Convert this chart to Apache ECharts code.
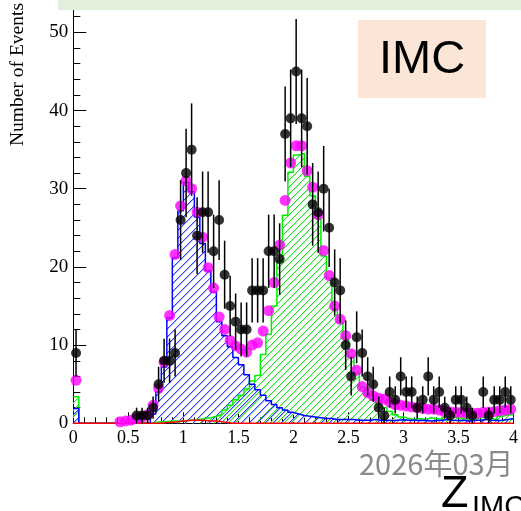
<!DOCTYPE html>
<html>
<head>
<meta charset="utf-8">
<script src="https://cdn.jsdelivr.net/npm/echarts@6/dist/echarts.min.js"></script>
<style>
  html, body { margin: 0; padding: 0; background: #ffffff; }
  #chart { width: 521px; height: 511px; }
</style>
</head>
<body>
<div id="chart"></div>
<script>
// Histogram binning: 80 bins of width 0.05 over [0, 4]
const BIN_WIDTH = 0.05;
const X_RANGE = [0, 4];

// Observed events per bin
const dataCounts = [
  9, 0, 0, 0, 0, 0, 0, 0, 0, 0,
  0, 1, 1, 1, 2, 5, 8, 8, 9, 26,
  32, 35, 24, 27, 27, 22, 26, 19, 15, 13,
  12, 12, 17, 17, 17, 22, 22, 21, 37, 39,
  45, 39, 38, 28, 27, 30, 25, 18, 17, 10,
  6, 11, 9, 6, 5, 2, 1, 4, 3, 6,
  4, 4, 2, 3, 6, 3, 4, 2, 1, 3,
  3, 2, 1, 0, 4, 1, 3, 3, 4, 3
];

// Total simulation (magenta markers)
const mcTotal = [
  5.5, 0, 0, 0, 0, 0, 0, 0, 0.2, 0.3,
  0.4, 0.6, 0.8, 1.1, 2.3, 4.5, 7.8, 13.8, 21.6, 27.8,
  31.0, 30.0, 27.0, 23.8, 19.9, 17.3, 13.6, 12.0, 10.6, 9.9,
  9.5, 9.1, 10.0, 10.3, 11.8, 14.4, 18.0, 22.8, 28.5, 33.3,
  35.5, 35.5, 32.3, 30.2, 26.7, 22.1, 18.9, 15.0, 13.3, 11.2,
  8.9, 6.8, 4.7, 3.9, 3.5, 3.2, 3.1, 2.7, 2.4, 2.3,
  2.2, 2.1, 2.0, 1.9, 1.8, 1.8, 1.7, 1.5, 1.45, 1.4,
  1.4, 1.3, 1.3, 1.3, 1.4, 1.4, 1.5, 1.6, 1.7, 1.8
];

// Component around Z = 1 (blue hatched)
const mcBlue = [
  1.9, 0, 0, 0, 0, 0, 0, 0, 0, 0,
  0, 0, 0, 0, 1.2, 4.0, 7.2, 13.5, 21.2, 27.2,
  30.8, 29.6, 26.4, 23.0, 19.5, 16.8, 13.0, 11.2, 9.8, 8.4,
  7.5, 6.2, 5.0, 4.3, 3.6, 2.9, 2.4, 2.0, 1.7, 1.4,
  1.2, 1.0, 0.9, 0.8, 0.7, 0.6, 0.6, 0.5, 0.5, 0.5,
  0.5, 0.4, 0.4, 0.4, 0.5, 0.4, 0.4, 0.35, 0.4, 0.45,
  0.4, 0.4, 0.35, 0.4, 0.3, 0.35, 0.4, 0.5, 0.4, 0.35,
  0.4, 0.3, 0.4, 0.4, 0.5, 0.4, 0.35, 0.4, 0.5, 0.6
];

// Component around Z = 2 (green hatched)
const mcGreen = [
  3.4, 0, 0, 0, 0, 0, 0, 0, 0, 0,
  0, 0, 0, 0, 0.1, 0.2, 0.2, 0.3, 0.3, 0.3,
  0.4, 0.4, 0.5, 0.6, 0.7, 0.9, 1.1, 1.7, 2.3, 3.0,
  3.6, 4.4, 5.4, 6.1, 8.8, 11.4, 15.0, 20.8, 26.6, 32.1,
  34.3, 34.5, 31.6, 29.1, 26.2, 21.4, 18.6, 14.6, 12.9, 10.8,
  8.5, 6.5, 4.6, 3.6, 3.0, 2.5, 2.0, 1.5, 1.1, 0.8,
  0.6, 0.5, 0.6, 0.5, 0.7, 0.6, 0.5, 0.8, 0.9, 0.7,
  0.6, 0.5, 0.6, 0.7, 0.8, 0.6, 0.5, 0.9, 1.1, 1.1
];

// Small extra component (red)
const mcRed = [
  0, 0, 0, 0, 0, 0, 0, 0, 0, 0,
  0, 0, 0, 0, 0, 0, 0.1, 0.15, 0.2, 0.3,
  0.35, 0.4, 0.4, 0.35, 0.3, 0.3, 0.2, 0.1, 0, 0,
  0, 0, 0, 0, 0, 0, 0, 0, 0, 0,
  0, 0, 0, 0, 0, 0, 0, 0, 0, 0,
  0, 0, 0, 0, 0, 0, 0, 0, 0, 0,
  0, 0, 0, 0, 0, 0, 0, 0, 0, 0,
  0, 0, 0, 0, 0, 0, 0, 0, 0, 0
];

// Axis ticks
const xTickStep = 0.5;
const yTickStep = 10;
const yMax = 53.5;

const binLow = i => X_RANGE[0] + i * BIN_WIDTH;
const binCenter = i => X_RANGE[0] + (i + 0.5) * BIN_WIDTH;

// step outline: one point per lower edge, closed at the upper end
function stepData(values) {
  const pts = values.map((v, i) => [binLow(i), v]);
  pts.push([X_RANGE[1], values[values.length - 1]]);
  return pts;
}

// "/" hatch fill: a crisp core pixel with a softer neighbour
function hatch(core, soft, size) {
  const c = document.createElement('canvas');
  c.width = size; c.height = size;
  const g = c.getContext('2d');
  for (let i = 0; i < size; i++) {
    g.fillStyle = soft;
    g.fillRect((i + 1) % size, size - 1 - i, 1, 1);
    g.fillStyle = core;
    g.fillRect(i, size - 1 - i, 1, 1);
  }
  return c;
}

const pointData = [];
const errData = [];
dataCounts.forEach((n, i) => {
  if (n > 0) {
    pointData.push([binCenter(i), n]);
    errData.push([binCenter(i), n - Math.sqrt(n), n + Math.sqrt(n)]);
  }
});
const mcPoints = [];
mcTotal.forEach((v, i) => { if (v > 0) mcPoints.push([binCenter(i), v]); });

const serif = '"Liberation Serif", "DejaVu Serif", serif';
const sans = '"Liberation Sans", Arial, sans-serif';

const chart = echarts.init(document.getElementById('chart'), null, { renderer: 'canvas' });

chart.setOption({
  animation: false,
  backgroundColor: '#ffffff',
  grid: { left: 73.3, right: 3.7, top: 5, bottom: 87.7, containLabel: false },
  xAxis: [{
    type: 'value', min: X_RANGE[0], max: X_RANGE[1], interval: xTickStep,
    axisLine: { show: true, onZero: false, lineStyle: { color: '#000', width: 1 } },
    axisTick: { show: true, inside: true, length: 11, lineStyle: { color: '#000', width: 1 } },
    minorTick: { show: true, splitNumber: 5, length: 6, lineStyle: { color: '#000', width: 1 } },
    splitLine: { show: false },
    axisLabel: { color: '#000', fontFamily: serif, fontSize: 18, margin: 6,
      formatter: v => String(v) }
  }, {
    type: 'value', position: 'top', min: X_RANGE[0], max: X_RANGE[1],
    axisLine: { show: true, lineStyle: { color: '#000', width: 1 } },
    axisTick: { show: false }, axisLabel: { show: false }, splitLine: { show: false }
  }],
  yAxis: [{
    type: 'value', min: 0, max: yMax, interval: yTickStep,
    axisLine: { show: true, onZero: false, lineStyle: { color: '#000', width: 1 } },
    axisTick: { show: true, inside: true, length: 13, lineStyle: { color: '#000', width: 1 } },
    minorTick: { show: true, splitNumber: 5, length: 7, lineStyle: { color: '#000', width: 1 } },
    splitLine: { show: false },
    axisLabel: { color: '#000', fontFamily: serif, fontSize: 19, margin: 5, showMaxLabel: false }
  }, {
    type: 'value', position: 'right', min: 0, max: yMax,
    axisLine: { show: true, lineStyle: { color: '#000', width: 1 } },
    axisTick: { show: false }, axisLabel: { show: false }, splitLine: { show: false }
  }],
  series: [
    {
      name: 'green', type: 'line', step: 'end', symbol: 'none', z: 2,
      data: stepData(mcGreen),
      lineStyle: { color: '#00ee00', width: 1.5 },
      areaStyle: { color: { image: hatch('#22dd22', '#b8f2b8', 7), repeat: 'repeat' }, opacity: 1 }
    },
    {
      name: 'blue', type: 'line', step: 'end', symbol: 'none', z: 2,
      data: stepData(mcBlue),
      lineStyle: { color: '#0000ff', width: 1.5 },
      areaStyle: { color: { image: hatch('#2b3cff', '#a9b1ff', 8), repeat: 'repeat' }, opacity: 1 }
    },
    {
      name: 'red', type: 'line', step: 'end', symbol: 'none', z: 3,
      data: stepData(mcRed),
      lineStyle: { color: '#ff0000', width: 1.5 }
    },
    {
      name: 'total', type: 'scatter', symbol: 'circle', symbolSize: 11, z: 4,
      data: mcPoints,
      itemStyle: { color: '#ff00ff' }
    },
    {
      name: 'errors', type: 'custom', z: 5,
      data: errData,
      encode: { x: 0, y: [1, 2] },
      renderItem: (params, api) => {
        const x = api.value(0);
        const p1 = api.coord([x, api.value(1)]);
        const p2 = api.coord([x, api.value(2)]);
        return {
          type: 'line',
          shape: { x1: p1[0], y1: p1[1], x2: p2[0], y2: p2[1] },
          style: { stroke: '#000', lineWidth: 1.5 }
        };
      }
    },
    {
      name: 'data', type: 'scatter', symbol: 'circle', symbolSize: 10, z: 6,
      data: pointData,
      itemStyle: { color: '#000' }
    }
  ],
  graphic: [
    { type: 'rect', left: 58, top: 0, z: 100,
      shape: { width: 463, height: 10 }, style: { fill: '#e2efda' } },
    { type: 'rect', left: 358, top: 20, z: 100,
      shape: { width: 128, height: 78 }, style: { fill: '#fbe5d6' } },
    { type: 'text', x: 422, y: 60, z: 101,
      style: { text: 'IMC', font: '47px ' + sans, fill: '#000',
        textAlign: 'center', textVerticalAlign: 'middle' } },
    { type: 'text', x: 18, y: 3, rotation: Math.PI / 2, z: 101,
      style: { text: 'Number of Events', font: '19.5px ' + serif, fill: '#000',
        textAlign: 'right', textVerticalAlign: 'middle' } },
    { type: 'text', x: 359, y: 464, z: 101,
      style: { text: '2026年03月', font: '29px "Noto Sans CJK SC", sans-serif', fill: '#8a8a8a',
        textAlign: 'left', textVerticalAlign: 'middle' } },
    { type: 'text', x: 441, y: 517, z: 101,
      style: { text: 'Z', font: '45px ' + sans, fill: '#000',
        textAlign: 'left', textVerticalAlign: 'bottom' } },
    { type: 'text', x: 472, y: 522, z: 101,
      style: { text: 'IMC', font: '29px ' + sans, fill: '#000',
        textAlign: 'left', textVerticalAlign: 'bottom' } }
  ]
});
</script>
</body>
</html>
